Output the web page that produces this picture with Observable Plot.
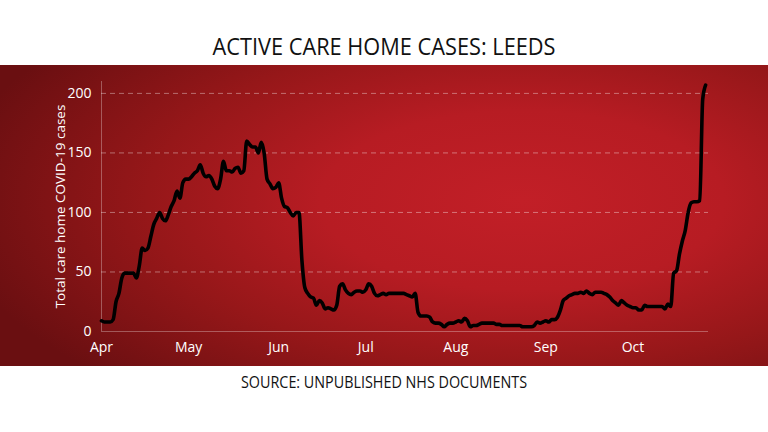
<!DOCTYPE html>
<html><head><meta charset="utf-8">
<script src="https://cdn.jsdelivr.net/npm/d3@7"></script>
<script src="https://cdn.jsdelivr.net/npm/@observablehq/plot@0.6"></script>
<style>
html,body{margin:0;padding:0;background:#fff;}
#wrap{position:relative;width:768px;height:432px;overflow:hidden;background:#fff;font-family:"Open Sans",sans-serif;}
#title{position:absolute;top:35px;left:384px;font-size:23px;line-height:1;white-space:nowrap;color:#111;transform-origin:0 0;}
#source{position:absolute;top:374px;left:384px;font-size:16px;line-height:1;white-space:nowrap;color:#111;transform-origin:0 0;}
#panel{position:absolute;left:0;top:65px;width:768px;height:301px;
  background:radial-gradient(ellipse 75% 85% at 68% 45%, #c21f27 0%, #b71c23 35%, #961719 65%, #6a0f11 100%);}
#chart{position:absolute;left:0;top:0;}
</style></head>
<body><div id="wrap">
<div id="title">ACTIVE CARE HOME CASES: LEEDS</div>
<div id="panel"><div id="chart"></div></div>
<div id="source">SOURCE: UNPUBLISHED NHS DOCUMENTS</div>
</div>
<script>
const year = 2020;
const monthIndex = [3, 4, 5, 6, 7, 8, 9];
const monthLabels = ["Apr", "May", "Jun", "Jul", "Aug", "Sep", "Oct"];
const yTicks = [0, 50, 100, 150, 200];
const yLabel = "Total care home COVID-19 cases";

// daily active care home cases, one array per month (day 1 onwards)
const apr = [9,8,8,8,10,25,32,45,49,49,49,49,45,55,70,68,70,80,90,95,100,95,93,98,105,110,118,112,125,128];
const may = [128,130,133,135,140,133,130,131,128,122,120,128,143,135,135,134,137,138,133,135,160,157,155,155,150,159,150,128,124,120,121];
const jun = [125,112,105,104,100,97,100,100,60,37,32,29,28,22,26,24,19,20,19,18,22,38,40,35,32,31,33,34,34,33];
const jul = [35,40,38,32,30,31,32,31,32,32,32,32,32,32,31,30,29,32,16,13,13,13,12,8,7,7,6,4,6,7,7];
const aug = [8,9,8,11,9,4,5,5,6,7,7,7,7,7,6,6,5,5,5,5,5,5,5,4,4,4,4,5,8,7,8];
const sep = [9,8,10,10,12,18,26,28,30,31,32,32,33,32,34,32,31,33,33,33,32,31,29,26,24,22,26,24,22,21];
const oct = [20,20,18,18,22,21,21,21,21,21,21,19,23,21,49,51,65,76,85,100,108,109,109,110,195,207];
const xEnd = new Date(Date.UTC(year, 9, 27));

const series = [apr, may, jun, jul, aug, sep, oct];
const data = series.flatMap((vals, m) => vals.map((v, i) => ({date: new Date(Date.UTC(year, monthIndex[m], i + 1)), cases: v})));
const monthStarts = monthIndex.map(m => new Date(Date.UTC(year, m, 1)));

const chart = Plot.plot({
  width: 768, height: 300,
  marginLeft: 101, marginRight: 60, marginTop: 16, marginBottom: 34,
  style: {background: "transparent", color: "#fff", fontFamily: "Open Sans, sans-serif", fontSize: "14px", overflow: "visible"},
  x: {type: "utc", domain: [monthStarts[0], xEnd], ticks: monthStarts, tickFormat: (d) => monthLabels[monthStarts.findIndex(t => +t === +d)], tickSize: 0, tickPadding: 11, label: null},
  y: {domain: [0, 210], ticks: yTicks, tickSize: 0, tickPadding: 10, label: yLabel, labelAnchor: "center", labelOffset: 46},
  marks: [
    Plot.ruleY(yTicks.filter(d => d > 0), {stroke: "#fff", strokeOpacity: 0.38, strokeDasharray: "5,4"}),
    Plot.ruleY([0], {stroke: "#fff", strokeOpacity: 0.3}),
    Plot.ruleX([monthStarts[0]], {stroke: "#fff", strokeOpacity: 0.3}),
    Plot.line(data, {x: "date", y: "cases", stroke: "#000", strokeWidth: 3.6, curve: "monotone-x", strokeLinejoin: "round", strokeLinecap: "round"})
  ]
});
document.getElementById("chart").appendChild(chart);
chart.querySelectorAll("text").forEach(t => {
  if (t.textContent.startsWith(yLabel)) { t.textContent = yLabel; t.style.fontSize = "13.5px"; }
});

function fit(id, w) {
  const el = document.getElementById(id);
  const r = el.getBoundingClientRect();
  const k = w / r.width;
  el.style.transform = `scaleX(${k}) translateX(-50%)`;
}
fit("title", 343);
fit("source", 286);
</script>
</body></html>
